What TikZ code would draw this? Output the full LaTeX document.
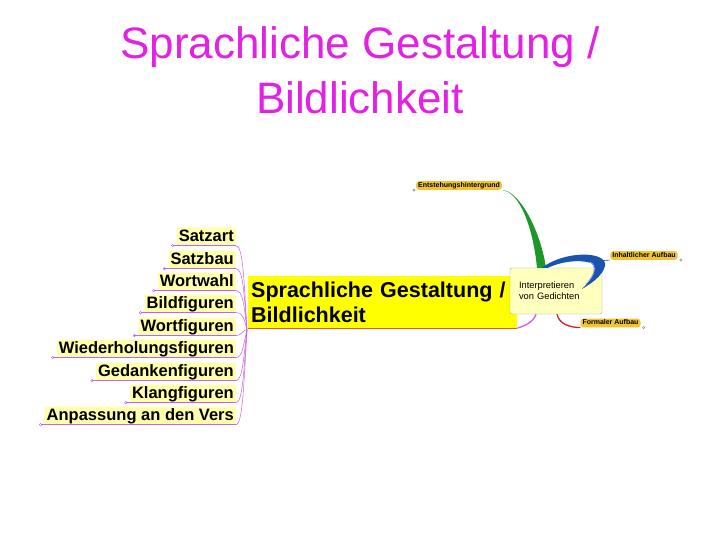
\documentclass[tikz,border=0pt]{standalone}
\usepackage{fontspec}
\setmainfont{Liberation Sans}
\usepackage{tikz}
\usetikzlibrary{calc}

\definecolor{titlemag}{RGB}{228,32,228}
\definecolor{magline}{RGB}{205,95,225}
\definecolor{paleyel}{RGB}{255,255,172}
\definecolor{mainyel}{RGB}{255,255,0}
\definecolor{boxyel}{RGB}{255,255,190}
\definecolor{pillgold}{RGB}{242,196,48}
\definecolor{greenbr}{RGB}{30,150,40}
\definecolor{bluebr}{RGB}{25,85,175}
\definecolor{redbr}{RGB}{210,30,40}
\definecolor{underor}{RGB}{230,90,40}

\tikzset{
  leftlab/.style={fill=paleyel, rounded corners=2pt, inner xsep=2pt, inner ysep=1.5pt,
    text height=12pt, text depth=3pt, anchor=base east,
    font=\bfseries\fontsize{16.5}{18}\selectfont},
  magline/.style={draw=magline, line width=0.5pt},
  marker/.style={circle, draw=magline, line width=0.4pt, inner sep=0pt, minimum size=2.6pt},
  pill/.style={fill=pillgold, rounded corners=3pt, inner xsep=2pt, inner ysep=1pt,
    text height=5.2pt, text depth=1.5pt, font=\bfseries\fontsize{7}{8}\selectfont},
  pillmark/.style={circle, draw=gray, line width=0.4pt, inner sep=0pt, minimum size=2.4pt}
}

\begin{document}
\begin{tikzpicture}[x=1pt,y=-1pt]
	\useasboundingbox[fill=white] (0,0) rectangle (720,540);
	
	% title
	\node[text=titlemag, align=center, font=\fontsize{44}{55}\selectfont] (title) at (360,70) {Sprachliche Gestaltung /\\Bildlichkeit};
	
	% central node
	\node[fill=mainyel, anchor=north west, text width=263pt, inner xsep=3pt, inner ysep=5.5pt, align=left,
		font=\bfseries\fontsize{21.5}{25}\selectfont] (main) at (248,276) {Sprachliche Gestaltung /\\Bildlichkeit};
	\draw[underor, line width=0.8pt] (main.south west) -- (main.south east);
	\coordinate (hub) at ([shift={(-1,2)}]main.south west);
	
	% left branches
	\node[leftlab] (satzart) at (236,241) {Satzart};
	\node[leftlab] (satzbau) at (236,264) {Satzbau};
	\node[leftlab] (wortwahl) at (236,286) {Wortwahl};
	\node[leftlab] (bildfig) at (236,308) {Bildfiguren};
	\node[leftlab] (wortfig) at (236,331) {Wortfiguren};
	\node[leftlab] (wiederfig) at (236,353) {Wiederholungsfiguren};
	\node[leftlab] (gedankfig) at (236,376) {Gedankenfiguren};
	\node[leftlab] (klangfig) at (236,398) {Klangfiguren};
	\node[leftlab] (anpass) at (236,420) {Anpassung an den Vers};
	
	\draw[magline] (satzart.south east) -- ([xshift=-4pt]satzart.south west) node[marker]{};
	\draw[magline] (satzbau.south east) -- ([xshift=-4pt]satzbau.south west) node[marker]{};
	\draw[magline] (wortwahl.south east) -- ([xshift=-4pt]wortwahl.south west) node[marker]{};
	\draw[magline] (bildfig.south east) -- ([xshift=-4pt]bildfig.south west) node[marker]{};
	\draw[magline] (wortfig.south east) -- ([xshift=-4pt]wortfig.south west) node[marker]{};
	\draw[magline] (wiederfig.south east) -- ([xshift=-4pt]wiederfig.south west) node[marker]{};
	\draw[magline] (gedankfig.south east) -- ([xshift=-4pt]gedankfig.south west) node[marker]{};
	\draw[magline] (klangfig.south east) -- ([xshift=-4pt]klangfig.south west) node[marker]{};
	\draw[magline] (anpass.south east) -- ([xshift=-4pt]anpass.south west) node[marker]{};
	
	\draw[magline] (satzart.south east) .. controls +(7,0) and +(-3,-50) .. (hub);
	\draw[magline] (satzbau.south east) .. controls +(7,0) and +(-3,-38) .. (hub);
	\draw[magline] (wortwahl.south east) .. controls +(7,0) and +(-3,-25) .. (hub);
	\draw[magline] (bildfig.south east) .. controls +(7,0) and +(-3,-12) .. (hub);
	\draw[magline] (wortfig.south east) .. controls +(6,0) and +(-3,-2) .. (hub);
	\draw[magline] (wiederfig.south east) .. controls +(7,0) and +(-3,10) .. (hub);
	\draw[magline] (gedankfig.south east) .. controls +(7,0) and +(-3,22) .. (hub);
	\draw[magline] (klangfig.south east) .. controls +(7,0) and +(-3,35) .. (hub);
	\draw[magline] (anpass.south east) .. controls +(7,0) and +(-3,48) .. (hub);
	
	% right part
	\node[fill=boxyel, draw=gray!70, rounded corners=2pt, text width=74pt, inner xsep=9pt, align=left,
		minimum height=46pt, font=\fontsize{9.3}{11}\selectfont] (interp) at (556,291) {Interpretieren\\von Gedichten};
	
	\node[pill] (entst) at (459,185.5) {Entstehungshintergrund};
	\node[pill] (inhalt) at (644,255.5) {Inhaltlicher Aufbau};
	\node[pill] (formal) at (610.5,323) {Formaler Aufbau};
	
	\node[pillmark] at ([xshift=-2pt]entst.south west) {};
	\node[pillmark] at ([xshift=3pt]inhalt.south east) {};
	\node[pillmark] at ([xshift=3pt]formal.south east) {};
	
	% green branch
	\fill[greenbr] (entst.south east) .. controls +(18,2) and +(-4,-40) .. ([xshift=-19pt]interp.north)
		-- ([xshift=-10pt]interp.north) .. controls +(-6,-40) and +(16,0) .. (entst.south east);
	
	% blue branch
	\fill[bluebr] ([xshift=-14pt]interp.north) .. controls (565,250) and (608,251) .. (605,266)
		.. controls (602,277) and (590,284) .. (582,289)
		.. controls (592,279) and (598,268) .. (591,263)
		.. controls (578,259) and (560,262) .. ([xshift=-8pt]interp.north) -- cycle;
	\draw[blue!35, line width=0.8pt] (586,284) .. controls (594,276) and (598,266) .. (590,262);
	\draw[bluebr, line width=0.6pt] (inhalt.south west) -- +(-14,1);
	
	% red and magenta branches
	\draw[redbr, line width=1.3pt] ([xshift=1pt]interp.south) .. controls +(2,10) and +(-10,0) .. (formal.south west);
	\draw[magline, line width=1.3pt] ([xshift=-20pt]interp.south) .. controls +(-2,8) and +(6,-2) .. (main.south east);
\end{tikzpicture}
\end{document}
